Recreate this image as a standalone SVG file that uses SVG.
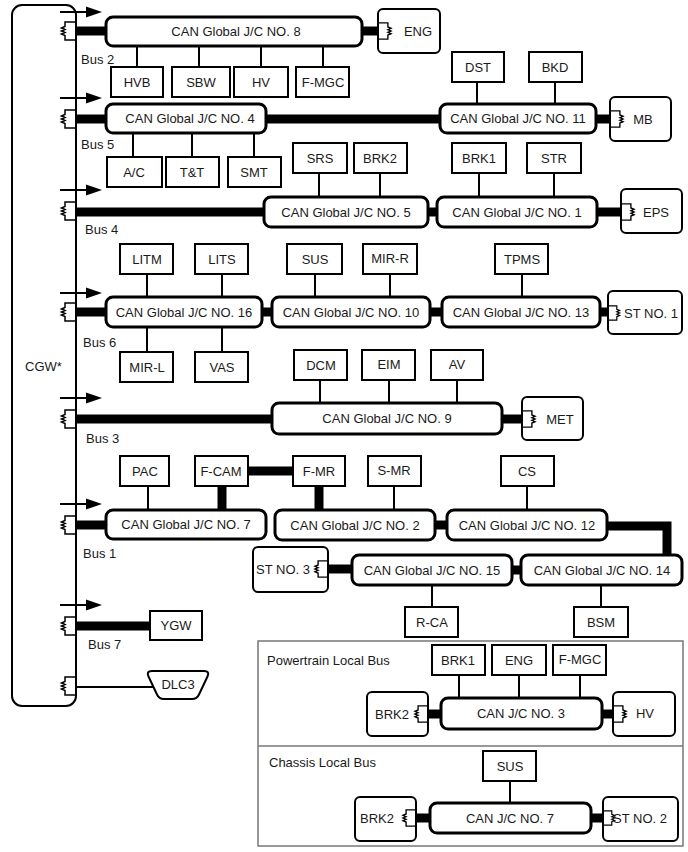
<svg xmlns="http://www.w3.org/2000/svg" xmlns:xlink="http://www.w3.org/1999/xlink" width="688" height="852" viewBox="0 0 688 852">
<style>
text{font-family:"Liberation Sans",Arial,sans-serif;font-size:13px;fill:#1a1a1a}
.c{text-anchor:middle}
.box{fill:#fff;stroke:#000;stroke-width:2}
.jc{fill:#fff;stroke:#000;stroke-width:3}
.dev{fill:#fff;stroke:#000;stroke-width:2}
.bus{stroke:#000;stroke-width:9;fill:none}
.ln{stroke:#000;stroke-width:2;fill:none}
.arr{stroke:#000;stroke-width:2}
.panel{fill:none;stroke:#777;stroke-width:1.5}
</style>
<defs>
<path id="rz" d="M0,-9 H-11 V-4.5 l-3.5,1.5 l3.5,1.5 l-3.5,1.5 l3.5,1.5 l-3.5,1.5 l3.5,1.5 V9 H0" fill="none" stroke="#000" stroke-width="1.5"/>
<path id="ah" d="M-16,-5.5 L0,0 L-16,5.5 Z" fill="#000"/>
</defs>
<rect width="688" height="852" fill="#fff"/>

<g id="connectors">
<!-- arrows at gateway -->
<g class="arr">
<line x1="60" y1="12" x2="88" y2="12"/><line x1="60" y1="98" x2="88" y2="98"/><line x1="60" y1="190" x2="88" y2="190"/><line x1="60" y1="293" x2="88" y2="293"/><line x1="60" y1="398" x2="88" y2="398"/><line x1="60" y1="504" x2="88" y2="504"/><line x1="60" y1="605" x2="88" y2="605"/>
</g>
<use href="#ah" x="102" y="12"/><use href="#ah" x="102" y="98"/><use href="#ah" x="102" y="190"/><use href="#ah" x="102" y="293"/><use href="#ah" x="102" y="398"/><use href="#ah" x="102" y="504"/><use href="#ah" x="102" y="605"/>
<!-- thick buses -->
<g class="bus">
<line x1="76" y1="31" x2="107" y2="31"/><line x1="361" y1="31" x2="379" y2="31"/>
<line x1="76" y1="119" x2="107" y2="119"/><line x1="265" y1="119" x2="441" y2="119"/><line x1="595" y1="119" x2="611" y2="119"/>
<line x1="76" y1="212" x2="265" y2="212"/><line x1="427" y1="212" x2="438" y2="212"/><line x1="596" y1="212" x2="622" y2="212"/>
<line x1="76" y1="312" x2="107" y2="312"/><line x1="261" y1="312" x2="273" y2="312"/><line x1="429" y1="312" x2="443" y2="312"/><line x1="599" y1="312" x2="609" y2="312"/>
<line x1="76" y1="419" x2="273" y2="419"/><line x1="501" y1="419" x2="523" y2="419"/>
<line x1="76" y1="525" x2="107" y2="525"/><line x1="434" y1="525" x2="448" y2="525"/>
<path d="M606,526 H667 V556"/>
<line x1="248" y1="471" x2="293" y2="471"/><line x1="222" y1="486" x2="222" y2="511"/><line x1="319" y1="486" x2="319" y2="511"/>
<line x1="327" y1="569" x2="353" y2="569"/><line x1="511" y1="570" x2="522" y2="570"/>
<line x1="76" y1="626" x2="151" y2="626"/>
<line x1="427" y1="714" x2="442" y2="714"/><line x1="601" y1="714" x2="614" y2="714"/>
<line x1="415" y1="818" x2="431" y2="818"/><line x1="590" y1="818" x2="604" y2="818"/>
</g>
<!-- thin stubs -->
<g class="ln">
<line x1="137" y1="46" x2="137" y2="67"/><line x1="199" y1="46" x2="199" y2="67"/><line x1="261" y1="46" x2="261" y2="67"/><line x1="323" y1="46" x2="323" y2="67"/>
<line x1="477" y1="82" x2="477" y2="104"/><line x1="555" y1="82" x2="555" y2="104"/>
<line x1="133" y1="133" x2="133" y2="157"/><line x1="192" y1="133" x2="192" y2="157"/><line x1="254" y1="133" x2="254" y2="157"/>
<line x1="319" y1="173" x2="319" y2="197"/><line x1="380" y1="173" x2="380" y2="197"/><line x1="479" y1="173" x2="479" y2="197"/><line x1="554" y1="173" x2="554" y2="197"/>
<line x1="147" y1="274" x2="147" y2="297"/><line x1="222" y1="274" x2="222" y2="297"/><line x1="315" y1="274" x2="315" y2="297"/><line x1="390" y1="274" x2="390" y2="297"/><line x1="522" y1="274" x2="522" y2="297"/>
<line x1="147" y1="327" x2="147" y2="352"/><line x1="222" y1="327" x2="222" y2="352"/>
<line x1="320" y1="380" x2="320" y2="403"/><line x1="389" y1="380" x2="389" y2="403"/><line x1="457" y1="380" x2="457" y2="403"/>
<line x1="148" y1="486" x2="148" y2="510"/><line x1="394" y1="486" x2="394" y2="510"/><line x1="527" y1="486" x2="527" y2="510"/>
<line x1="432" y1="585" x2="432" y2="607"/><line x1="601" y1="585" x2="601" y2="607"/>
<line x1="76" y1="687" x2="153" y2="687"/>
<line x1="459" y1="675" x2="459" y2="698"/><line x1="519" y1="675" x2="519" y2="698"/><line x1="580" y1="675" x2="580" y2="698"/>
<line x1="510" y1="781" x2="510" y2="803"/>
</g>
</g>

<g id="CGW">
<rect x="12" y="5" width="64" height="701" rx="10" fill="none" stroke="#000" stroke-width="2"/>
<text x="25" y="371">CGW*</text>
<use href="#rz" x="76" y="31"/><use href="#rz" x="76" y="119"/><use href="#rz" x="76" y="211"/><use href="#rz" x="76" y="312"/><use href="#rz" x="76" y="419"/><use href="#rz" x="76" y="525"/><use href="#rz" x="76" y="626"/><use href="#rz" x="76" y="686"/>
</g>
<g id="bus-labels">
<text x="81" y="64">Bus 2</text>
<text x="81" y="149">Bus 5</text>
<text x="85" y="234">Bus 4</text>
<text x="83" y="347">Bus 6</text>
<text x="86" y="443">Bus 3</text>
<text x="83" y="558">Bus 1</text>
<text x="88" y="649">Bus 7</text>
</g>

<!-- Bus 2 -->
<g id="jc8"><rect class="jc" x="106" y="17" width="256" height="29" rx="7"/><text class="c" x="236" y="36">CAN Global J/C NO. 8</text></g>
<g id="eng1"><rect class="dev" x="378" y="9" width="62" height="44" rx="5"/><use href="#rz" transform="translate(378,31) scale(-0.9,0.9)"/><text class="c" x="418" y="36">ENG</text></g>
<g id="hvb"><rect class="box" x="111" y="67" width="52" height="30"/><text class="c" x="137" y="87">HVB</text></g>
<g id="sbw"><rect class="box" x="172" y="67" width="58" height="30"/><text class="c" x="201" y="87">SBW</text></g>
<g id="hv1"><rect class="box" x="234" y="67" width="54" height="30"/><text class="c" x="261" y="87">HV</text></g>
<g id="fmgc1"><rect class="box" x="296" y="67" width="53" height="30"/><text class="c" x="323" y="87">F-MGC</text></g>

<!-- Bus 5 -->
<g id="dst"><rect class="box" x="452" y="52" width="52" height="30"/><text class="c" x="478" y="72">DST</text></g>
<g id="bkd"><rect class="box" x="529" y="52" width="53" height="30"/><text class="c" x="555" y="72">BKD</text></g>
<g id="jc4"><rect class="jc" x="106" y="104" width="160" height="29" rx="7"/><text class="c" x="190" y="123">CAN Global J/C NO. 4</text></g>
<g id="jc11"><rect class="jc" x="440" y="104" width="156" height="29" rx="7"/><text class="c" x="518" y="123">CAN Global J/C NO. 11</text></g>
<g id="mb"><rect class="dev" x="610" y="97" width="61" height="44" rx="5"/><use href="#rz" transform="translate(610,119) scale(-0.9,0.9)"/><text class="c" x="643" y="124">MB</text></g>
<g id="ac"><rect class="box" x="107" y="157" width="55" height="30"/><text class="c" x="134" y="177">A/C</text></g>
<g id="tt"><rect class="box" x="166" y="157" width="53" height="30"/><text class="c" x="192" y="177">T&amp;T</text></g>
<g id="smt"><rect class="box" x="228" y="157" width="53" height="30"/><text class="c" x="254" y="177">SMT</text></g>

<!-- Bus 4 -->
<g id="srs"><rect class="box" x="293" y="143" width="54" height="30"/><text class="c" x="320" y="163">SRS</text></g>
<g id="brk2a"><rect class="box" x="354" y="143" width="53" height="30"/><text class="c" x="380" y="163">BRK2</text></g>
<g id="brk1a"><rect class="box" x="452" y="143" width="54" height="30"/><text class="c" x="479" y="163">BRK1</text></g>
<g id="str"><rect class="box" x="527" y="143" width="54" height="30"/><text class="c" x="554" y="163">STR</text></g>
<g id="jc5"><rect class="jc" x="264" y="197" width="164" height="30" rx="7"/><text class="c" x="346" y="217">CAN Global J/C NO. 5</text></g>
<g id="jc1"><rect class="jc" x="437" y="197" width="160" height="30" rx="7"/><text class="c" x="517" y="217">CAN Global J/C NO. 1</text></g>
<g id="eps"><rect class="dev" x="621" y="189" width="61" height="44" rx="5"/><use href="#rz" transform="translate(621,212) scale(-0.9,0.9)"/><text class="c" x="656" y="217">EPS</text></g>

<!-- Bus 6 -->
<g id="litm"><rect class="box" x="120" y="244" width="53" height="30"/><text class="c" x="147" y="264">LITM</text></g>
<g id="lits"><rect class="box" x="195" y="244" width="53" height="30"/><text class="c" x="222" y="264">LITS</text></g>
<g id="sus1"><rect class="box" x="287" y="244" width="55" height="30"/><text class="c" x="315" y="264">SUS</text></g>
<g id="mirr"><rect class="box" x="363" y="244" width="54" height="30"/><text class="c" x="390" y="263">MIR-R</text></g>
<g id="tpms"><rect class="box" x="495" y="244" width="53" height="30"/><text class="c" x="522" y="264">TPMS</text></g>
<g id="jc16"><rect class="jc" x="106" y="297" width="156" height="30" rx="7"/><text class="c" x="184" y="317">CAN Global J/C NO. 16</text></g>
<g id="jc10"><rect class="jc" x="272" y="297" width="158" height="30" rx="7"/><text class="c" x="351" y="317">CAN Global J/C NO. 10</text></g>
<g id="jc13"><rect class="jc" x="442" y="297" width="158" height="30" rx="7"/><text class="c" x="521" y="317">CAN Global J/C NO. 13</text></g>
<g id="st1"><rect class="dev" x="608" y="291" width="74" height="43" rx="5"/><use href="#rz" transform="translate(608,313) scale(-0.8,0.8)"/><text class="c" x="651" y="318">ST NO. 1</text></g>
<g id="mirl"><rect class="box" x="120" y="352" width="53" height="30"/><text class="c" x="147" y="372">MIR-L</text></g>
<g id="vas"><rect class="box" x="195" y="352" width="53" height="30"/><text class="c" x="222" y="372">VAS</text></g>

<!-- Bus 3 -->
<g id="dcm"><rect class="box" x="294" y="350" width="53" height="30"/><text class="c" x="321" y="370">DCM</text></g>
<g id="eim"><rect class="box" x="362" y="350" width="53" height="30"/><text class="c" x="389" y="369">EIM</text></g>
<g id="av"><rect class="box" x="431" y="350" width="52" height="30"/><text class="c" x="457" y="369">AV</text></g>
<g id="jc9"><rect class="jc" x="272" y="403" width="230" height="31" rx="7"/><text class="c" x="387" y="423">CAN Global J/C NO. 9</text></g>
<g id="met"><rect class="dev" x="522" y="397" width="61" height="43" rx="5"/><use href="#rz" transform="translate(522,419) scale(-0.9,0.9)"/><text class="c" x="560" y="424">MET</text></g>

<!-- Bus 1 -->
<g id="pac"><rect class="box" x="120" y="456" width="49" height="30"/><text class="c" x="145" y="476">PAC</text></g>
<g id="fcam"><rect class="box" x="195" y="456" width="53" height="30"/><text class="c" x="221" y="476">F-CAM</text></g>
<g id="fmr"><rect class="box" x="293" y="456" width="52" height="30"/><text class="c" x="319" y="476">F-MR</text></g>
<g id="smr"><rect class="box" x="368" y="456" width="53" height="30"/><text class="c" x="394" y="475">S-MR</text></g>
<g id="cs"><rect class="box" x="501" y="456" width="53" height="30"/><text class="c" x="527" y="476">CS</text></g>
<g id="jc7"><rect class="jc" x="106" y="510" width="160" height="29" rx="7"/><text class="c" x="186" y="529">CAN Global J/C NO. 7</text></g>
<g id="jc2"><rect class="jc" x="275" y="510" width="160" height="30" rx="7"/><text class="c" x="355" y="530">CAN Global J/C NO. 2</text></g>
<g id="jc12"><rect class="jc" x="447" y="510" width="160" height="30" rx="7"/><text class="c" x="527" y="530">CAN Global J/C NO. 12</text></g>
<g id="st3"><rect class="dev" x="253" y="547" width="75" height="45" rx="5"/><use href="#rz" transform="translate(328,569) scale(0.9,0.9)"/><text class="c" x="283" y="574">ST NO. 3</text></g>
<g id="jc15"><rect class="jc" x="352" y="555" width="160" height="30" rx="7"/><text class="c" x="432" y="575">CAN Global J/C NO. 15</text></g>
<g id="jc14"><rect class="jc" x="521" y="555" width="161" height="30" rx="7"/><text class="c" x="602" y="575">CAN Global J/C NO. 14</text></g>
<g id="rca"><rect class="box" x="405" y="607" width="53" height="30"/><text class="c" x="432" y="627">R-CA</text></g>
<g id="bsm"><rect class="box" x="574" y="607" width="54" height="30"/><text class="c" x="601" y="627">BSM</text></g>

<!-- Bus 7 / DLC3 -->
<g id="ygw"><rect class="box" x="150" y="611" width="52" height="29" stroke-width="2.5"/><text class="c" x="176" y="630">YGW</text></g>
<g id="dlc3"><path d="M152,671 H204 Q210,671 207.5,676.5 L199,694.5 Q197,699 192,699 H164 Q159,699 157,694.5 L148.5,676.5 Q146,671 152,671 Z" fill="#fff" stroke="#000" stroke-width="2"/><text class="c" x="178" y="689">DLC3</text></g>

<!-- Local buses panel -->
<g id="local-panel">
<rect class="panel" x="258" y="641" width="425" height="205"/>
<line class="panel" x1="258" y1="746" x2="683" y2="746"/>
<text x="267" y="665">Powertrain Local Bus</text>
<text x="269" y="767">Chassis Local Bus</text>
</g>
<g id="brk1b"><rect class="box" x="432" y="645" width="53" height="30"/><text class="c" x="458" y="665">BRK1</text></g>
<g id="eng2"><rect class="box" x="492" y="645" width="54" height="30"/><text class="c" x="519" y="665">ENG</text></g>
<g id="fmgc2"><rect class="box" x="553" y="645" width="53" height="30"/><text class="c" x="580" y="664">F-MGC</text></g>
<g id="jc3"><rect class="jc" x="441" y="698" width="161" height="31" rx="7"/><text class="c" x="521" y="718">CAN J/C NO. 3</text></g>
<g id="brk2b"><rect class="dev" x="367" y="692" width="61" height="44" rx="5"/><use href="#rz" transform="translate(428,714) scale(0.9,0.9)"/><text class="c" x="392" y="719">BRK2</text></g>
<g id="hv2"><rect class="dev" x="613" y="692" width="62" height="44" rx="5"/><use href="#rz" transform="translate(613,714) scale(-0.9,0.9)"/><text class="c" x="645" y="718">HV</text></g>
<g id="sus2"><rect class="box" x="483" y="751" width="53" height="30"/><text class="c" x="510" y="771">SUS</text></g>
<g id="jcl7"><rect class="jc" x="430" y="803" width="161" height="30" rx="7"/><text class="c" x="510" y="823">CAN J/C NO. 7</text></g>
<g id="brk2c"><rect class="dev" x="355" y="797" width="61" height="44" rx="5"/><use href="#rz" transform="translate(416,818) scale(0.9,0.9)"/><text class="c" x="377" y="823">BRK2</text></g>
<g id="st2"><rect class="dev" x="603" y="797" width="75" height="44" rx="5"/><use href="#rz" transform="translate(603,818) scale(-0.8,0.8)"/><text class="c" x="640" y="823">ST NO. 2</text></g>
</svg>
